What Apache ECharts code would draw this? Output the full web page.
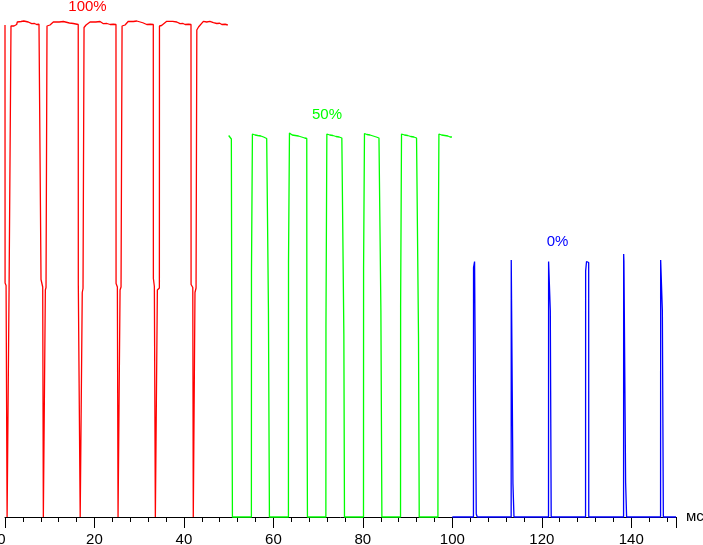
<!DOCTYPE html>
<html>
<head>
<meta charset="utf-8">
<script src="https://cdn.jsdelivr.net/npm/echarts@6/dist/echarts.min.js"></script>
<style>
html,body{margin:0;padding:0;background:#fff;}
#c{width:703px;height:545px;}
</style>
</head>
<body>
<div id="c"></div>
<script>
// Time axis ticks (ms)
const xTicks = [0, 20, 40, 60, 80, 100, 120, 140];
const seriesNames = ['100%', '50%', '0%'];

// 100% brightness (red): [time ms, relative brightness]
const red100 = [
  [0.00, 98.4], [0.02, 46.8], [0.22, 46.8], [0.24, 46.3], [0.45, 46.3], [0.47, 0], [0.89, 0], [0.91, 45.6], [1.10, 45.6], [1.12, 46.0], [1.32, 46.0], [1.34, 98.2],
  [2.01, 98.2], [2.03, 98.5], [2.61, 98.5], [2.75, 99.0], [2.98, 99.14], [3.6, 99.1], [4.2, 99.2], [4.47, 98.94], [5.2, 99.0], [5.97, 98.66], [6.6, 98.7], [7.08, 98.5], [7.6, 98.55], [8.03, 98.5],
  [8.05, 47.5], [8.41, 47.5], [8.43, 46.0], [8.55, 46.0], [8.57, 0], [9.00, 0], [9.02, 45.4], [9.15, 45.4], [9.17, 45.9], [9.37, 45.9], [9.39, 98.2],
  [10.06, 98.4], [10.8, 99.0], [11.18, 99.14], [12.1, 99.0], [13.04, 99.1], [13.42, 98.74], [14.4, 98.8], [15.28, 98.7], [15.43, 98.54], [16.37, 98.5],
  [16.39, 46.4], [16.76, 46.4], [16.78, 46.4], [16.81, 0], [17.25, 0], [17.27, 44.9], [17.42, 44.9], [17.44, 45.7], [17.65, 45.7], [17.67, 97.9],
  [18.12, 98.4], [19.01, 99.0], [19.39, 99.14], [20.3, 99.0], [21.25, 99.1], [22.0, 98.66], [22.8, 98.7], [23.5, 98.5], [24.2, 98.55], [24.81, 98.5],
  [24.83, 46.7], [25.10, 46.7], [25.12, 46.0], [25.25, 46.0], [25.27, 0], [25.70, 0], [25.72, 45.4], [25.92, 45.4], [25.94, 46.0], [26.15, 46.0], [26.17, 98.2],
  [26.84, 98.4], [27.58, 99.14], [27.96, 99.2], [28.7, 99.1], [29.46, 99.2], [29.83, 98.8], [30.8, 98.85], [31.69, 98.5], [32.5, 98.55], [33.15, 98.5],
  [33.17, 47.7], [33.37, 47.7], [33.39, 46.1], [33.59, 46.1], [33.61, 0], [34.04, 0], [34.06, 45.4], [34.26, 45.4], [34.28, 45.8], [34.51, 45.8], [34.53, 98.2],
  [35.0, 98.3], [35.41, 98.6], [36.16, 99.14], [36.53, 99.0], [37.5, 99.14], [38.4, 99.0], [39.14, 98.66], [39.8, 98.7], [40.26, 98.5], [41.0, 98.55], [41.58, 98.5],
  [41.60, 46.5], [41.96, 46.5], [41.98, 45.9], [42.07, 45.9], [42.09, 0], [42.45, 0], [42.47, 44.9], [42.69, 44.9], [42.71, 45.8], [42.86, 45.8], [42.88, 97.4],
  [43.24, 97.4], [43.26, 98.0], [43.61, 98.4], [44.35, 99.14], [45.1, 99.0], [45.8, 99.14], [46.59, 98.86], [47.35, 98.7], [48.0, 98.75], [48.47, 98.5], [49.2, 98.55], [49.81, 98.4]
];

// 50% brightness (green)
const green50 = [
  [50.00, 76.3], [50.3, 76.0], [50.6, 75.6], [50.70, 36.4], [50.84, 0],
  [55.08, 0], [55.10, 49.0], [55.29, 49.0], [55.31, 76.6], [55.9, 76.4], [56.5, 76.3], [57.2, 76.2], [57.8, 76.0], [58.5, 75.7], [58.87, 75.7], [58.89, 41.6], [59.11, 0],
  [63.36, 0], [63.38, 50.9], [63.57, 50.9], [63.59, 76.8], [64.2, 76.4], [64.9, 76.3], [65.6, 76.2], [66.3, 76.0], [67.0, 75.8], [67.46, 75.7], [67.48, 35.8], [67.61, 0],
  [71.73, 0], [71.75, 38.0], [71.93, 38.0], [71.95, 76.6], [72.6, 76.4], [73.3, 76.3], [74.0, 76.1], [74.7, 76.0], [75.3, 75.8], [75.73, 75.7], [75.75, 36.6], [75.89, 0],
  [80.14, 0], [80.16, 49.6], [80.34, 49.6], [80.36, 76.7], [80.9, 76.5], [81.6, 76.4], [82.3, 76.2], [83.0, 76.0], [83.6, 75.8], [84.01, 75.7], [84.03, 41.2], [84.25, 0],
  [88.42, 0], [88.44, 42.0], [88.62, 42.0], [88.64, 76.6], [89.3, 76.4], [90.0, 76.3], [90.7, 76.1], [91.4, 76.0], [92.0, 75.8], [92.42, 75.7], [92.44, 35.8], [92.60, 0],
  [96.78, 0], [96.80, 42.0], [96.98, 42.0], [97.00, 76.6], [97.6, 76.4], [98.3, 76.3], [99.0, 76.2], [99.5, 76.0], [99.91, 76.0]
];

// 0% brightness (blue)
const blue0 = [
  [100.0, 0], [104.72, 0], [104.74, 49.9], [104.95, 49.9], [104.97, 51.1], [105.2, 51.0], [105.33, 50.8], [105.35, 0.6], [105.55, 0.6], [105.57, 0],
  [113.15, 0], [113.17, 51.4], [113.4, 51.3], [113.53, 51.2], [113.55, 6.7], [113.76, 6.7], [113.78, 0],
  [121.50, 0], [121.52, 51.1], [121.72, 51.1], [121.74, 51.4], [121.88, 51.3], [121.90, 41.3], [122.08, 41.3], [122.10, 0],
  [129.78, 0], [129.80, 49.2], [129.98, 49.2], [130.00, 51.1], [130.3, 51.0], [130.48, 50.9], [130.50, 0],
  [138.28, 0], [138.30, 52.6], [138.36, 51.1], [138.72, 51.1], [138.74, 6.8], [138.94, 6.8], [138.96, 0],
  [146.55, 0], [146.57, 51.4], [146.8, 51.3], [146.93, 51.2], [146.95, 41.3], [147.15, 41.3], [147.17, 0], [150.0, 0]
];

const colors = ['#ff0000', '#00ff00', '#0000ff'];
const FONT = '"Liberation Sans", Arial, sans-serif';

const chart = echarts.init(document.getElementById('c'), null, {renderer: 'canvas'});
const mk = (name, data, color) => ({
  name: name, type: 'line', data: data, showSymbol: false, symbol: 'none',
  lineStyle: {color: color, width: 1.3}, itemStyle: {color: color},
  animation: false, silent: true, clip: false
});
chart.setOption({
  animation: false,
  backgroundColor: '#ffffff',
  grid: {left: 5, right: 27, top: 17, bottom: 28, containLabel: false, outerBoundsMode: 'none'},
  xAxis: {
    type: 'value', min: xTicks[0], max: 150, interval: 20,
    name: 'мс', nameLocation: 'end', nameGap: 10,
    nameTextStyle: {color: '#000', fontSize: 15, fontFamily: FONT},
    axisLine: {show: true, lineStyle: {color: '#000', width: 1}},
    axisTick: {show: true, length: 11, lineStyle: {color: '#000', width: 1}},
    minorTick: {show: true, splitNumber: 5, length: 5, lineStyle: {color: '#000', width: 1}},
    splitLine: {show: false}, minorSplitLine: {show: false},
    axisLabel: {
      color: '#000', fontSize: 15, fontFamily: FONT, margin: 15, showMaxLabel: false,
      formatter: function (v) { return v === xTicks[0] ? '{z|' + v + '}' : String(v); },
      rich: {z: {color: '#000', fontSize: 15, fontFamily: FONT, padding: [0, 7, 0, 0]}}
    }
  },
  yAxis: {type: 'value', min: 0, max: 100, show: false, splitLine: {show: false}},
  graphic: [
    {type: 'text', x: 87.5, y: 7, style: {text: seriesNames[0], fill: colors[0], font: '15px ' + FONT, textAlign: 'center', textVerticalAlign: 'middle'}},
    {type: 'text', x: 327, y: 115, style: {text: seriesNames[1], fill: colors[1], font: '15px ' + FONT, textAlign: 'center', textVerticalAlign: 'middle'}},
    {type: 'text', x: 557.5, y: 242, style: {text: seriesNames[2], fill: colors[2], font: '15px ' + FONT, textAlign: 'center', textVerticalAlign: 'middle'}}
  ],
  series: [
    mk(seriesNames[0], red100, colors[0]),
    mk(seriesNames[1], green50, colors[1]),
    mk(seriesNames[2], blue0, colors[2])
  ]
});
</script>
</body>
</html>
